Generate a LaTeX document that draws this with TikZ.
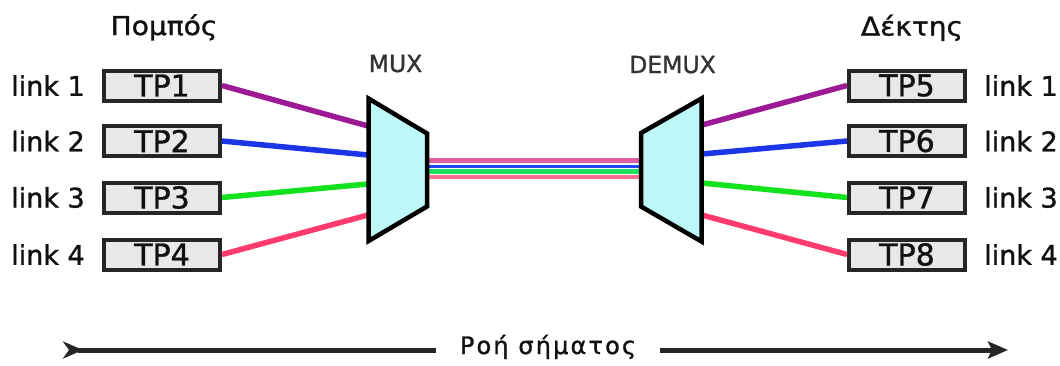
\documentclass[tikz,border=0pt]{standalone}
\usepackage{fontspec}
\setmainfont{DejaVu Sans}
\newfontfamily\heavy{DejaVu Sans}[FakeBold=1.2]
\usetikzlibrary{arrows.meta}
\definecolor{boxline}{HTML}{262626}
\definecolor{boxfill}{HTML}{E8E8E8}
\definecolor{trapfill}{HTML}{BDF7F7}
\definecolor{cpur}{HTML}{9E1A94}
\definecolor{cblu}{HTML}{1A36E6}
\definecolor{cgrn}{HTML}{14E21E}
\definecolor{cred}{HTML}{FF3A6C}
\definecolor{bpur}{HTML}{E0609F}
\definecolor{bblu}{HTML}{2244F0}
\definecolor{bgrn}{HTML}{22E060}
\definecolor{bred}{HTML}{FF6E92}
\definecolor{txt}{HTML}{111111}
\definecolor{graytxt}{HTML}{333333}
\definecolor{flowc}{HTML}{262626}
\begin{document}
\begin{tikzpicture}[x=1pt,y=-1pt,
  tpbox/.style={draw=boxline,line width=4pt,fill=boxfill,minimum width=116pt,minimum height=30pt,inner sep=0pt,text=txt,font=\fontsize{30}{32}\heavy},
  linklbl/.style={text=txt,inner sep=0pt,font=\fontsize{27}{29}\heavy},
  sidelbl/.style={text=txt,inner sep=0pt,anchor=base,font=\fontsize{26}{28}\heavy},
  muxlbl/.style={text=graytxt,inner sep=0pt,anchor=base,font=\fontsize{23.5}{26}\heavy},
  trap/.style={draw=black,line width=4.5pt,fill=trapfill,line join=miter},
  wire/.style={line width=5.5pt},
  bund/.style={line width=4.5pt},
  flowline/.style={draw=flowc,line width=5pt}
]
\useasboundingbox (0,0) rectangle (1060,365);

% titles
\node[sidelbl] (tx) at (164,35) {\scalebox{1.08}[1]{Πομπός}};
\node[sidelbl] (rx) at (912,35.5) {\scalebox{1.08}[1]{Δέκτης}};
\node[muxlbl] (muxl) at (395.5,72) {MUX};
\node[muxlbl] (demuxl) at (672.5,73) {DEMUX};

% boxes
\node[tpbox] (tp1) at (162,85.5) {TP1};
\node[tpbox] (tp2) at (162,141) {TP2};
\node[tpbox] (tp3) at (162,197.5) {TP3};
\node[tpbox] (tp4) at (162,254.5) {TP4};
\node[tpbox] (tp5) at (907,85.5) {TP5};
\node[tpbox] (tp6) at (907,141) {TP6};
\node[tpbox] (tp7) at (907,197.5) {TP7};
\node[tpbox] (tp8) at (907,254.5) {TP8};

% link labels
\node[linklbl] (l1) at (48,85.5) {link 1};
\node[linklbl] (l2) at (48,141) {link 2};
\node[linklbl] (l3) at (48,197.5) {link 3};
\node[linklbl] (l4) at (48,254.5) {link 4};
\node[linklbl] (r1) at (1021,85.5) {link 1};
\node[linklbl] (r2) at (1021,141) {link 2};
\node[linklbl] (r3) at (1021,197.5) {link 3};
\node[linklbl] (r4) at (1021,254.5) {link 4};

% attachment points
\coordinate (m1) at (368,126);
\coordinate (m2) at (368,155);
\coordinate (m3) at (368,184);
\coordinate (m4) at (368,215);
\coordinate (d1) at (702,125);
\coordinate (d2) at (702,154);
\coordinate (d3) at (702,183);
\coordinate (d4) at (702,215);
\coordinate (ba1) at (427,160.5);
\coordinate (ba2) at (427,166);
\coordinate (ba3) at (427,171.5);
\coordinate (ba4) at (427,177);
\coordinate (bb1) at (641,160.5);
\coordinate (bb2) at (641,166);
\coordinate (bb3) at (641,171.5);
\coordinate (bb4) at (641,177);

% wires
\draw[wire,cpur] (tp1.east) -- (m1);
\draw[wire,cblu] (tp2.east) -- (m2);
\draw[wire,cgrn] (tp3.east) -- (m3);
\draw[wire,cred] (tp4.east) -- (m4);
\draw[wire,cpur] (d1) -- (tp5.west);
\draw[wire,cblu] (d2) -- (tp6.west);
\draw[wire,cgrn] (d3) -- (tp7.west);
\draw[wire,cred] (d4) -- (tp8.west);

% bundle
\draw[bund,bpur] (ba1) -- (bb1);
\draw[bund,bred] (ba4) -- (bb4);
\draw[bund,bgrn] (ba3) -- (bb3);
\draw[line width=3pt,bblu] (ba2) -- (bb2);

% mux / demux
\draw[trap] (368.5,98.5) -- (427,133.5) -- (427,206.5) -- (368.5,241) -- cycle;
\draw[trap] (641,133) -- (701.5,98.5) -- (701.5,241.5) -- (641,206.5) -- cycle;

% signal flow
\node[text=txt,anchor=base,inner xsep=24pt,inner ysep=0pt,font=\fontsize{24}{26}\heavy\addfontfeatures{LetterSpace=9}] (flow) at (548,354) {Ροή σήματος};
\coordinate (ftail) at (63,350);
\coordinate (fhead) at (1008,350);
\draw[flowline,{Stealth[reversed,length=20pt,width=17pt,inset=6pt]}-] (ftail) -- (flow.west |- ftail);
\draw[flowline,-{Stealth[length=20pt,width=17pt,inset=4pt]}] (flow.east |- fhead) -- (fhead);
\end{tikzpicture}
\end{document}
